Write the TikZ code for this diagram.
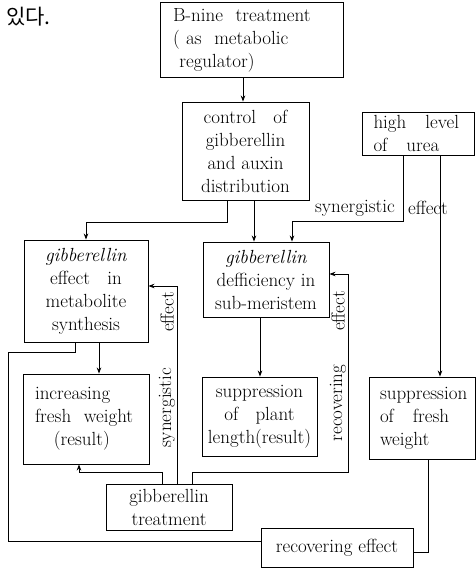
\documentclass[tikz,border=0pt]{standalone}
\usepackage{fontspec}
\newfontfamily\krfont{Noto Sans CJK KR}
\usetikzlibrary{arrows.meta}
\begin{document}
\begin{tikzpicture}[x=1pt,y=-1pt,
  every node/.style={font=\fontsize{19}{23}\selectfont},
  bx/.style 2 args={draw, line width=0.9pt, inner sep=0pt, align=center,
     minimum width=#1pt, minimum height=#2pt},
  ln/.style={line width=0.8pt},
  ar/.style={ln, -{Stealth[length=6pt,width=4.5pt]}},
  lbl/.style={inner sep=0pt}]
\useasboundingbox[fill=white] (0,0) rectangle (476,568);

\node[lbl, anchor=west, font=\fontsize{21}{24}\selectfont] (kr) at (6,17) {\krfont 있다.};

\node[bx={183}{75}, align=left, text width=157pt] (bnine) at (251.5,40)
  {B-nine\ \ treatment\\( as\ \ metabolic\\\ regulator)};
\node[bx={127}{98}] (ctrl) at (245.5,151)
  {control\ \ \ of\\gibberellin\\and auxin\\distribution};
\node[bx={112}{43}, align=left, text width=90pt] (urea) at (418.5,133.5)
  {high\ \ \ level\\of\ \ \ urea};
\node[bx={124}{102}] (geff) at (86,291)
  {\textit{gibberellin}\\effect\ \ \ in\\metabolite\\synthesis};
\node[bx={126}{75}] (gdef) at (266,279.5)
  {\textit{gibberellin}\\defficiency in\\sub-meristem};
\node[bx={126}{90}, align=left, text width=102pt] (incr) at (86,419)
  {increasing\\fresh\ \ weight\\\ \ \ (result)};
\node[bx={115}{79}] (supl) at (259.5,416.5)
  {suppression\\of\ \ \ plant\\length(result)};
\node[bx={106}{82}, align=left, text width=84pt] (supf) at (422,418)
  {suppression\\of\ \ \ fresh\\weight};
\node[bx={126}{46}] (gtr) at (169,507)
  {gibberellin\\treatment};
\node[bx={152}{39}] (rec) at (337,547.5)
  {recovering effect};

% connectors
\draw[ar] (bnine.south -| 243,0) -- (ctrl.north -| 243,0);
\draw[ar] (ctrl.south -| 227,0) -- (227,222) -| (geff.north);
\draw[ar] (ctrl.south -| 254,0) -- (gdef.north -| 254,0);
\draw[ar] (urea.south -| 403,0) -- (403,221) -| (gdef.north -| 292,0);
\draw[ar] (urea.south -| 440,0) -- (supf.north -| 440,0);
\draw[ar] (geff.south -| 99,0) -- (incr.north -| 99,0);
\draw[ar] (gdef.south -| 260,0) -- (supl.north -| 260,0);
\draw[ln] (geff.south -| 75,0) -- (75,352) -- (8,352) -- (8,541) -- (rec.west |- 0,541);
\draw[ln] (supf.south -| 428,0) -- (428,552) -- (rec.east |- 0,552);
\draw[ar] (gtr.north -| 162,0) -- (162,472) -| (incr.south -| 79,0);
\draw[ar] (gtr.north -| 177,0) -- (177,286) -- (geff.east |- 0,286);
\draw[ar] (gtr.north -| 192,0) -- (192,472) -- (348,472) -- (348,274) -- (gdef.east |- 0,274);

% labels
\node[lbl] (l1) at (355,208) {synergistic};
\node[lbl] (l2) at (428,208) {effect};
\node[lbl, rotate=90] (l3) at (167,408) {synergistic};
\node[lbl, rotate=90] (l4) at (167,312) {effect};
\node[lbl, rotate=90] (l5) at (338,403) {recovering};
\node[lbl, rotate=90] (l6) at (338,311) {effect};
\end{tikzpicture}
\end{document}
